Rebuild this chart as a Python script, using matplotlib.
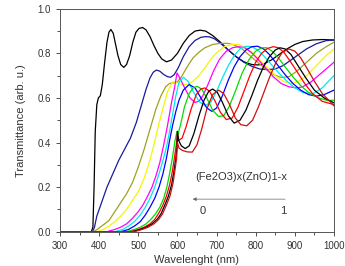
import matplotlib
matplotlib.use("Agg")
import matplotlib.pyplot as plt
from matplotlib.ticker import MultipleLocator

plt.rcParams['font.family'] = ['Liberation Sans', 'DejaVu Sans']

# ---- data: (wavelength nm, transmittance) ----
wl_x00 = [300, 380, 384, 387, 390, 394, 398, 403, 408, 414, 420, 425, 430, 436, 442, 448, 455, 463, 470, 478, 486, 494, 502, 511, 520, 530, 540, 550, 560, 572, 585, 600, 615, 630, 645, 658, 672, 690, 710, 730, 750, 770, 790, 805, 820, 840, 860, 880, 900, 920, 945, 970, 1000]
t_x00 = [0, 0, 0.02, 0.2, 0.45, 0.57, 0.6, 0.61, 0.66, 0.76, 0.85, 0.895, 0.907, 0.89, 0.84, 0.79, 0.75, 0.737, 0.75, 0.79, 0.85, 0.895, 0.912, 0.916, 0.905, 0.875, 0.835, 0.8, 0.775, 0.762, 0.77, 0.8, 0.845, 0.88, 0.9, 0.904, 0.9, 0.88, 0.85, 0.815, 0.785, 0.762, 0.75, 0.748, 0.752, 0.77, 0.795, 0.82, 0.84, 0.853, 0.86, 0.862, 0.86]

wl_x01 = [300, 383, 388, 394, 400, 410, 420, 435, 450, 465, 480, 495, 510, 520, 530, 538, 546, 555, 565, 575, 583, 592, 602, 615, 630, 645, 660, 672, 682, 695, 710, 730, 750, 770, 790, 810, 830, 850, 870, 890, 910, 930, 955, 980, 1000]
t_x01 = [0, 0, 0.02, 0.07, 0.1, 0.15, 0.2, 0.26, 0.32, 0.37, 0.42, 0.49, 0.58, 0.64, 0.69, 0.715, 0.725, 0.72, 0.705, 0.695, 0.693, 0.705, 0.735, 0.785, 0.83, 0.858, 0.872, 0.875, 0.874, 0.865, 0.845, 0.815, 0.785, 0.76, 0.742, 0.73, 0.727, 0.73, 0.745, 0.77, 0.795, 0.82, 0.843, 0.857, 0.86]

wl_x02 = [300, 385, 395, 410, 425, 440, 455, 470, 485, 500, 515, 530, 545, 558, 570, 580, 590, 600, 612, 625, 640, 655, 670, 690, 710, 728, 745, 765, 785, 805, 825, 845, 865, 885, 905, 930, 955, 980, 1000]
t_x02 = [0, 0, 0.01, 0.03, 0.05, 0.09, 0.13, 0.17, 0.22, 0.29, 0.37, 0.46, 0.55, 0.61, 0.65, 0.665, 0.668, 0.672, 0.7, 0.74, 0.78, 0.805, 0.825, 0.84, 0.845, 0.845, 0.838, 0.82, 0.79, 0.76, 0.73, 0.705, 0.692, 0.695, 0.72, 0.76, 0.8, 0.83, 0.85]

wl_x03 = [300, 395, 410, 425, 440, 455, 470, 485, 500, 515, 528, 540, 552, 564, 575, 588, 600, 612, 625, 640, 655, 670, 688, 705, 720, 738, 755, 772, 790, 810, 830, 850, 870, 890, 910, 930, 955, 980, 1000]
t_x03 = [0, 0, 0.01, 0.025, 0.045, 0.07, 0.1, 0.14, 0.18, 0.24, 0.31, 0.39, 0.48, 0.56, 0.63, 0.672, 0.668, 0.66, 0.66, 0.675, 0.7, 0.735, 0.78, 0.81, 0.83, 0.84, 0.84, 0.83, 0.805, 0.77, 0.735, 0.7, 0.675, 0.665, 0.675, 0.7, 0.745, 0.79, 0.82]

wl_x04 = [300, 420, 440, 455, 470, 485, 500, 512, 524, 535, 545, 555, 565, 575, 585, 593, 599, 603, 610, 620, 632, 645, 655, 665, 678, 692, 708, 725, 742, 758, 772, 788, 805, 825, 845, 865, 885, 905, 920, 940, 960, 980, 1000]
t_x04 = [0, 0, 0.01, 0.02, 0.035, 0.06, 0.09, 0.12, 0.16, 0.2, 0.25, 0.31, 0.39, 0.48, 0.58, 0.65, 0.712, 0.7, 0.675, 0.64, 0.6, 0.58, 0.585, 0.61, 0.66, 0.72, 0.775, 0.81, 0.826, 0.83, 0.825, 0.805, 0.775, 0.735, 0.695, 0.665, 0.65, 0.645, 0.65, 0.67, 0.7, 0.73, 0.76]

wl_x05 = [300, 440, 460, 475, 490, 505, 518, 530, 542, 553, 563, 572, 580, 588, 596, 604, 615, 627, 640, 655, 670, 685, 700, 715, 730, 745, 760, 775, 790, 805, 820, 840, 860, 880, 900, 920, 945, 970, 1000]
t_x05 = [0, 0, 0.01, 0.025, 0.045, 0.075, 0.11, 0.15, 0.2, 0.26, 0.32, 0.38, 0.45, 0.53, 0.61, 0.67, 0.693, 0.675, 0.63, 0.585, 0.565, 0.58, 0.63, 0.69, 0.745, 0.79, 0.82, 0.832, 0.83, 0.815, 0.79, 0.75, 0.71, 0.675, 0.645, 0.625, 0.618, 0.645, 0.7]

wl_x06 = [300, 455, 475, 490, 505, 518, 530, 542, 553, 563, 572, 580, 588, 596, 604, 615, 630, 645, 660, 675, 688, 700, 715, 730, 745, 760, 775, 790, 805, 820, 835, 855, 875, 895, 915, 935, 955, 975, 1000]
t_x06 = [0, 0, 0.01, 0.025, 0.045, 0.075, 0.11, 0.15, 0.2, 0.26, 0.33, 0.41, 0.48, 0.54, 0.59, 0.635, 0.66, 0.645, 0.6, 0.555, 0.54, 0.555, 0.61, 0.68, 0.74, 0.785, 0.815, 0.83, 0.832, 0.82, 0.795, 0.75, 0.705, 0.665, 0.635, 0.615, 0.608, 0.615, 0.635]

wl_x07 = [300, 470, 490, 505, 520, 532, 544, 555, 565, 573, 580, 587, 594, 599, 602, 608, 618, 630, 640, 650, 662, 675, 690, 705, 718, 732, 748, 765, 782, 800, 815, 828, 842, 858, 875, 895, 915, 935, 960, 985, 1000]
t_x07 = [0, 0, 0.01, 0.02, 0.035, 0.055, 0.08, 0.11, 0.15, 0.2, 0.26, 0.33, 0.41, 0.45, 0.44, 0.48, 0.56, 0.62, 0.645, 0.652, 0.64, 0.6, 0.545, 0.517, 0.52, 0.56, 0.63, 0.71, 0.77, 0.81, 0.825, 0.825, 0.81, 0.78, 0.74, 0.695, 0.655, 0.625, 0.6, 0.588, 0.59]

wl_x08 = [300, 480, 500, 515, 530, 542, 553, 563, 572, 580, 587, 593, 598, 600, 604, 612, 622, 635, 648, 660, 670, 682, 695, 710, 725, 740, 755, 770, 785, 800, 815, 830, 845, 858, 872, 888, 905, 925, 945, 970, 1000]
t_x08 = [0, 0, 0.01, 0.02, 0.035, 0.055, 0.085, 0.12, 0.16, 0.21, 0.27, 0.34, 0.4, 0.44, 0.41, 0.42, 0.47, 0.55, 0.615, 0.64, 0.645, 0.63, 0.59, 0.535, 0.503, 0.51, 0.56, 0.63, 0.7, 0.76, 0.8, 0.822, 0.83, 0.825, 0.805, 0.765, 0.72, 0.665, 0.62, 0.585, 0.57]

wl_x09 = [300, 485, 505, 520, 535, 548, 558, 568, 577, 585, 591, 596, 599, 600, 603, 610, 620, 630, 642, 655, 668, 680, 690, 702, 715, 730, 745, 760, 775, 790, 805, 820, 835, 850, 862, 875, 890, 908, 928, 950, 975, 1000]
t_x09 = [0, 0, 0.01, 0.02, 0.035, 0.055, 0.08, 0.12, 0.16, 0.21, 0.27, 0.33, 0.38, 0.45, 0.41, 0.385, 0.373, 0.385, 0.44, 0.52, 0.59, 0.63, 0.64, 0.625, 0.58, 0.52, 0.487, 0.5, 0.545, 0.61, 0.68, 0.74, 0.785, 0.815, 0.825, 0.82, 0.795, 0.745, 0.69, 0.635, 0.6, 0.578]

wl_x10 = [300, 490, 510, 525, 540, 552, 562, 572, 581, 589, 594, 598, 600, 604, 612, 625, 638, 650, 662, 675, 690, 705, 718, 732, 748, 762, 777, 792, 807, 822, 837, 852, 868, 885, 900, 915, 932, 950, 970, 1000]
t_x10 = [0, 0, 0.01, 0.02, 0.035, 0.055, 0.08, 0.12, 0.16, 0.22, 0.28, 0.33, 0.4, 0.375, 0.365, 0.358, 0.357, 0.39, 0.46, 0.55, 0.615, 0.635, 0.62, 0.575, 0.51, 0.48, 0.475, 0.5, 0.56, 0.63, 0.7, 0.76, 0.805, 0.82, 0.81, 0.78, 0.73, 0.675, 0.62, 0.565]

curves = [
    (wl_x00, t_x00, 'black'),
    (wl_x01, t_x01, '#1a1a9c'),
    (wl_x02, t_x02, '#a0a020'),
    (wl_x03, t_x03, '#f5f500'),
    (wl_x04, t_x04, '#ff00ff'),
    (wl_x05, t_x05, '#00e8f0'),
    (wl_x06, t_x06, '#0000ff'),
    (wl_x07, t_x07, '#00dd00'),
    (wl_x08, t_x08, '#ff0000'),
    (wl_x09, t_x09, 'black'),
    (wl_x10, t_x10, '#cc1010'),
]

x_ticks = [300, 400, 500, 600, 700, 800, 900, 1000]
y_ticks = [0.0, 0.2, 0.4, 0.6, 0.8, 1.0]
formula = "(Fe2O3)x(ZnO)1-x"

fig = plt.figure(figsize=(3.45, 2.66), dpi=100)
ax = fig.add_axes([0.174, 0.129, 0.794, 0.838])
for wl, t, c in curves:
    ax.plot(wl, t, color=c, lw=0.9)

ax.set_xlim(300, 1000)
ax.set_ylim(0, 1.0)
ax.set_xticks(x_ticks)
ax.set_yticks(y_ticks)
ax.set_yticklabels([f"{v:.1f}" for v in y_ticks])
ax.xaxis.set_minor_locator(MultipleLocator(50))
ax.yaxis.set_minor_locator(MultipleLocator(0.1))
ax.tick_params(which='both', direction='out', labelsize=7, colors='#333333', width=0.6)
ax.tick_params(which='major', length=3)
ax.tick_params(which='minor', length=2)
for s in ax.spines.values():
    s.set_color('#555555')
    s.set_linewidth(0.7)
ax.set_xlabel("Wavelenght (nm)", fontsize=8, color='#333333', labelpad=3)
ax.set_ylabel("Transmittance (arb. u.)", fontsize=8, color='#333333', labelpad=8)

ax.text(645, 0.245, formula, fontsize=8, color='#333333', va='center', ha='left')
ax.annotate("", xy=(639, 0.146), xytext=(875, 0.146),
            arrowprops=dict(arrowstyle='-|>', color='#666666', lw=0.5,
                            mutation_scale=5, shrinkA=0, shrinkB=0))
ax.text(664, 0.092, "0", fontsize=8, color='#333333', ha='center', va='center')
ax.text(870, 0.092, "1", fontsize=8, color='#333333', ha='center', va='center')

fig.savefig("out.png", dpi=100)
